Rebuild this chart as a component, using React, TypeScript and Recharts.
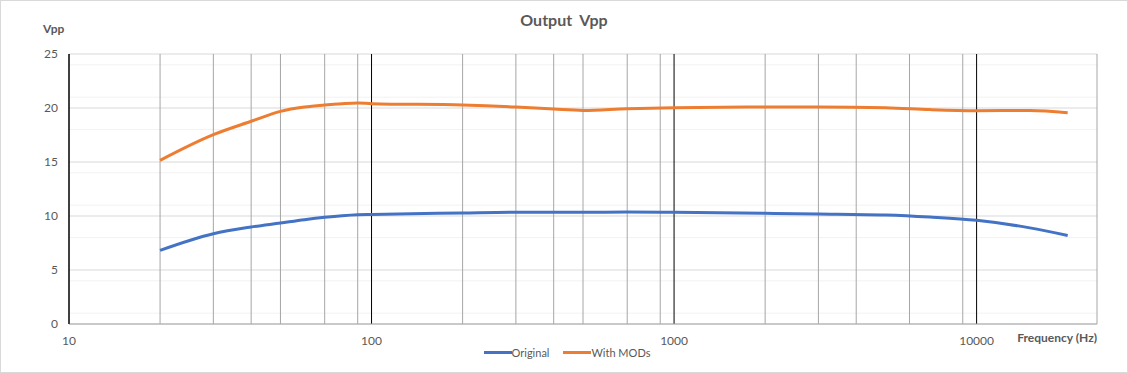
import React from 'react';
import { LineChart, Line, XAxis, YAxis, CartesianGrid, Legend } from 'recharts';

const freqs = [20, 30, 40, 50, 60, 70, 80, 90, 100, 200, 300, 400, 500, 700, 1000, 2000, 3000, 5000, 7000, 10000, 15000, 20000];
const original = [6.82, 8.36, 8.98, 9.35, 9.66, 9.88, 10.03, 10.12, 10.15, 10.28, 10.34, 10.34, 10.34, 10.37, 10.34, 10.25, 10.19, 10.09, 9.9, 9.6, 8.9, 8.2];
const withMods = [15.15, 17.53, 18.77, 19.69, 20.09, 20.28, 20.4, 20.46, 20.4, 20.28, 20.09, 19.9, 19.78, 19.94, 20.03, 20.09, 20.09, 20.03, 19.85, 19.75, 19.78, 19.57];

const xTicks = [10, 100, 1000, 10000];
const xMinor = [20, 30, 40, 50, 60, 70, 80, 90, 200, 300, 400, 500, 600, 700, 800, 900, 2000, 3000, 4000, 5000, 6000, 7000, 8000, 9000, 20000, 25000];
const yTicks = [0, 5, 10, 15, 20, 25];
const yMinor = [1, 2, 3, 4, 6, 7, 8, 9, 11, 12, 13, 14, 16, 17, 18, 19, 21, 22, 23, 24];

const data = freqs.map((f, i) => ({ freq: f, original: original[i], mods: withMods[i] }));

const FONT = 'Lato, "Open Sans", sans-serif';
const TEXT = '#595959';
const BLUE = '#4472C4';
const ORANGE = '#ED7D31';

const renderLegend = (props: any) => {
  const { payload } = props;
  return (
    <div style={{ display: 'flex', justifyContent: 'center', alignItems: 'center', height: 18, paddingLeft: 36, fontFamily: FONT, fontSize: 11, color: TEXT }}>
      {payload.map((entry: any, i: number) => (
        <div key={i} style={{ display: 'flex', alignItems: 'center', marginRight: i === 0 ? 14 : 0 }}>
          <div style={{ width: 28, height: 3, background: entry.color }} />
          <span>{entry.value}</span>
        </div>
      ))}
    </div>
  );
};

const freqLabel = (props: any) => {
  const { viewBox } = props;
  return (
    <text x={viewBox.x + viewBox.width} y={viewBox.y + 18} textAnchor="end" fill={TEXT} fontFamily={FONT} fontSize={12} fontWeight="bold">
      Frequency (Hz)
    </text>
  );
};

export default function App() {
  return (
    <div style={{ position: 'absolute', left: 0, top: 0, width: 1128, height: 373, border: '1px solid #D9D9D9', boxSizing: 'border-box', background: '#fff' }}>
      <div style={{ position: 'absolute', left: 0, top: 9, width: 1126, textAlign: 'center', fontFamily: FONT, fontWeight: 'bold', fontSize: 16, color: TEXT, whiteSpace: 'pre' }}>
        Output  Vpp
      </div>
      <div style={{ position: 'absolute', left: 42, top: 20, fontFamily: FONT, fontWeight: 'bold', fontSize: 12, color: TEXT }}>
        Vpp
      </div>
      <LineChart width={1126} height={371} data={data} margin={{ top: 53, right: 30, left: 0, bottom: 0 }}>
        <CartesianGrid stroke="#F2F2F2" vertical={false} horizontalValues={yMinor} />
        <CartesianGrid stroke="#D9D9D9" vertical={false} horizontalValues={yTicks} />
        <CartesianGrid stroke="#A6A6A6" horizontal={false} verticalValues={xMinor} />
        <CartesianGrid stroke="#000000" horizontal={false} verticalValues={xTicks} />
        <XAxis
          dataKey="freq"
          type="number"
          scale="log"
          domain={[10, 25000]}
          ticks={xTicks}
          allowDataOverflow
          height={30}
          tickLine={false}
          tickSize={0}
          tickMargin={12}
          axisLine={{ stroke: '#A6A6A6' }}
          tick={{ fill: TEXT, fontSize: 12, fontFamily: FONT }}
          label={freqLabel}
        />
        <YAxis
          type="number"
          domain={[0, 25]}
          ticks={yTicks}
          width={68}
          tickLine={false}
          axisLine={{ stroke: '#000000' }}
          tickSize={0}
          tickMargin={11}
          tick={{ fill: TEXT, fontSize: 12, fontFamily: FONT }}
        />
        <Legend verticalAlign="bottom" content={renderLegend} wrapperStyle={{ height: 18, bottom: 11 }} />
        <Line type="monotone" dataKey="original" name="Original" stroke={BLUE} strokeWidth={3} dot={false} isAnimationActive={false} />
        <Line type="monotone" dataKey="mods" name="With MODs" stroke={ORANGE} strokeWidth={3} dot={false} isAnimationActive={false} />
      </LineChart>
    </div>
  );
}
